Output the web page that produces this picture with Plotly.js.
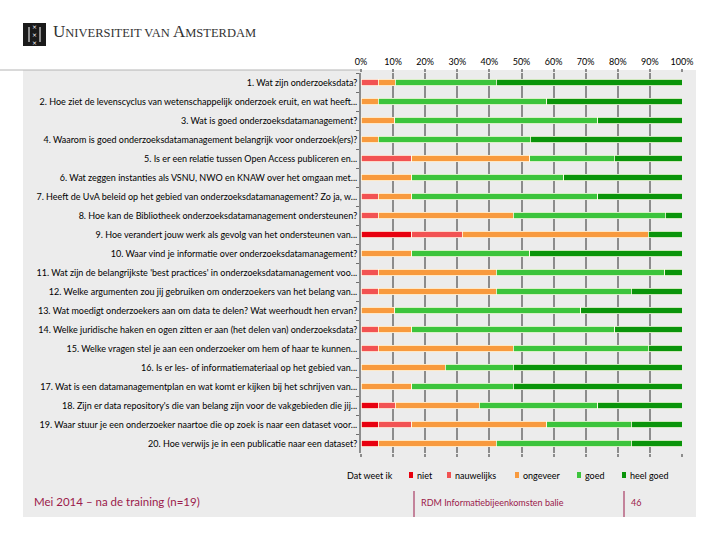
<!DOCTYPE html>
<html><head><meta charset="utf-8">
<script src="https://cdn.plot.ly/plotly-3.0.1.min.js"></script>
<style>html,body{margin:0;padding:0;background:#fff}#chart{width:720px;height:540px}</style>
</head><body><div id="chart"></div>
<script>
const questions = [
  "1. Wat zijn onderzoeksdata?",
  "2. Hoe ziet de levenscyclus van wetenschappelijk onderzoek eruit, en wat heeft...",
  "3. Wat is goed onderzoeksdatamanagement?",
  "4. Waarom is goed onderzoeksdatamanagement belangrijk voor onderzoek(ers)?",
  "5. Is er een relatie tussen Open Access publiceren en...",
  "6. Wat zeggen instanties als VSNU, NWO en KNAW over het omgaan met...",
  "7. Heeft de UvA beleid op het gebied van onderzoeksdatamanagement? Zo ja, w...",
  "8. Hoe kan de Bibliotheek onderzoeksdatamanagement ondersteunen?",
  "9. Hoe verandert jouw werk als gevolg van het ondersteunen van...",
  "10. Waar vind je informatie over onderzoeksdatamanagement?",
  "11. Wat zijn de belangrijkste 'best practices' in onderzoeksdatamanagement voo...",
  "12. Welke argumenten zou jij gebruiken om onderzoekers van het belang van...",
  "13. Wat moedigt onderzoekers aan om data te delen? Wat weerhoudt hen ervan?",
  "14. Welke juridische haken en ogen zitten er aan (het delen van) onderzoeksdata?",
  "15. Welke vragen stel je aan een onderzoeker om hem of haar te kunnen...",
  "16. Is er les- of informatiemateriaal op het gebied van...",
  "17. Wat is een datamanagementplan en wat komt er kijken bij het schrijven van...",
  "18. Zijn er data repository's die van belang zijn voor de vakgebieden die jij...",
  "19. Waar stuur je een onderzoeker naartoe die op zoek is naar een dataset voor...",
  "20. Hoe verwijs je in een publicatie naar een dataset?"
];

const seriesNames = ["Dat weet ik", "niet", "nauwelijks", "ongeveer", "goed", "heel goed"];
const seriesColors = ["rgba(0,0,0,0)", "#e8000f", "#f25252", "#f89a3e", "#3cc43c", "#0a940a"];

// percentages (n=19)
const datWeetIk  = [0,0,0,0,0,0,0,0,0,0,0,0,0,0,0,0,0,0,0,0];
const niet       = [0,0,0,0,0,0,0,0,15.8,0,0,0,0,0,0,0,0,5.3,5.3,5.3];
const nauwelijks = [5.3,0,0,0,15.8,0,5.3,5.3,15.8,0,5.3,5.3,0,5.3,5.3,0,0,5.3,10.5,0];
const ongeveer   = [5.3,5.3,10.5,5.3,36.8,15.8,10.5,42.1,57.9,15.8,36.8,36.8,10.5,10.5,42.1,26.3,15.8,26.3,42.1,36.8];
const goed       = [31.6,52.6,63.2,47.4,26.3,47.4,57.9,47.4,0,36.8,52.6,42.1,57.9,63.2,42.1,21.1,31.6,36.8,26.3,42.1];
const heelGoed   = [57.9,42.1,26.3,47.4,21.1,36.8,26.3,5.3,10.5,47.4,5.3,15.8,31.6,21.1,10.5,52.6,52.6,26.3,15.8,15.8];

const xTickVals   = [0,10,20,30,40,50,60,70,80,90,100];
const xTickLabels = ["0%","10%","20%","30%","40%","50%","60%","70%","80%","90%","100%"];

const footerLeft  = "Mei 2014 – na de training (n=19)";
const footerMid   = "RDM Informatiebijeenkomsten balie";
const footerPage  = "46";

const seriesValues = [datWeetIk, niet, nauwelijks, ongeveer, goed, heelGoed];

// ---- layout geometry (pixels) ----
const W = 720, H = 540;
const PL = 361, PR = 682, PT = 73, PB = 453;
const X = px => (px - PL) / (PR - PL);
const Y = py => (PB - py) / (PB - PT);

const FONT = "Lato, 'Open Sans', sans-serif";
const CRIMSON = "#9b1a4b";

const traces = seriesNames.map((name, i) => ({
  type: "bar",
  orientation: "h",
  name: name,
  x: seriesValues[i],
  y: questions,
  marker: {color: seriesColors[i], line: {color: i === 0 ? "rgba(0,0,0,0)" : "#fffbe8", width: i === 0 ? 0 : 0.8}},
  showlegend: false,
  hoverinfo: "x+name"
}));

const shapes = [
  // gray slide panel
  {type: "rect", xref: "paper", yref: "paper", x0: X(23), x1: X(696), y0: Y(517), y1: Y(70),
   fillcolor: "#ececec", line: {width: 0}, layer: "below"},
  // top rule
  {type: "line", xref: "paper", yref: "paper", x0: X(0), x1: X(360), y0: Y(70), y1: Y(70),
   line: {color: "#b4b4b4", width: 1}, layer: "below"},
  // logo block
  {type: "rect", xref: "paper", yref: "paper", x0: X(23), x1: X(46), y0: Y(46), y1: Y(23),
   fillcolor: "#1a1a1a", line: {width: 0}},
  {type: "line", xref: "paper", yref: "paper", x0: X(29), x1: X(29), y0: Y(42), y1: Y(27),
   line: {color: "#ffffff", width: 1}},
  {type: "line", xref: "paper", yref: "paper", x0: X(40), x1: X(40), y0: Y(42), y1: Y(27),
   line: {color: "#ffffff", width: 1}},
  // footer separators
  {type: "line", xref: "paper", yref: "paper", x0: X(414), x1: X(414), y0: Y(517), y1: Y(491),
   line: {color: CRIMSON, width: 1}},
  {type: "line", xref: "paper", yref: "paper", x0: X(624), x1: X(624), y0: Y(517), y1: Y(491),
   line: {color: CRIMSON, width: 1}}
];

const annotations = [
  {xref: "paper", yref: "paper", x: X(34.5), y: Y(34.5), xanchor: "center", yanchor: "middle", showarrow: false,
   text: "×<br>×<br>×", font: {family: "DejaVu Sans", size: 6, color: "#ffffff"}},
  {xref: "paper", yref: "paper", x: X(51), y: Y(31), xanchor: "left", yanchor: "middle", showarrow: false,
   text: "<span style='font-size:17px'>U</span>NIVERSITEIT VAN <span style='font-size:17px'>A</span>MSTERDAM",
   font: {family: "'Liberation Serif', 'DejaVu Serif', serif", size: 12.5, color: "#333333"}},
  {xref: "paper", yref: "paper", x: X(32), y: Y(501), xanchor: "left", yanchor: "middle", showarrow: false,
   text: footerLeft, font: {family: FONT, size: 11.5, color: CRIMSON}},
  {xref: "paper", yref: "paper", x: X(419), y: Y(502), xanchor: "left", yanchor: "middle", showarrow: false,
   text: footerMid, font: {family: FONT, size: 9, color: CRIMSON}},
  {xref: "paper", yref: "paper", x: X(629), y: Y(502), xanchor: "left", yanchor: "middle", showarrow: false,
   text: footerPage, font: {family: FONT, size: 9, color: CRIMSON}}
];

// legend (custom, compact like the original)
const legendX = [345, 409, 447, 515, 577, 622];
const legendY = 475;
seriesNames.forEach((name, i) => {
  let tx = legendX[i];
  if (i > 0) {
    shapes.push({type: "rect", xref: "paper", yref: "paper",
      x0: X(legendX[i]), x1: X(legendX[i] + 4), y0: Y(legendY + 3), y1: Y(legendY - 3),
      fillcolor: seriesColors[i], line: {width: 0}});
    tx = legendX[i] + 6;
  }
  annotations.push({xref: "paper", yref: "paper", x: X(tx), y: Y(legendY), xanchor: "left", yanchor: "middle",
    showarrow: false, text: name, font: {family: FONT, size: 9, color: "#000000"}});
});

const layout = {
  width: W, height: H,
  margin: {l: PL, r: W - PR, t: PT, b: H - PB, pad: 0},
  paper_bgcolor: "#ffffff",
  plot_bgcolor: "#ececec",
  barmode: "stack",
  bargap: 0.66,
  showlegend: false,
  font: {family: FONT, size: 9, color: "#000000"},
  xaxis: {
    side: "top", range: [0, 100], tickvals: xTickVals, ticktext: xTickLabels,
    showgrid: true, gridcolor: "#8c8c8c", gridwidth: 2,
    ticks: "outside", ticklen: 3, tickwidth: 2, tickcolor: "#8c8c8c",
    mirror: "ticks", showline: false, zeroline: false, fixedrange: true,
    tickfont: {family: FONT, size: 9, color: "#000000"}, automargin: false
  },
  yaxis: {
    type: "category", autorange: "reversed",
    showline: true, linecolor: "#8c8c8c", linewidth: 2,
    ticks: "outside", tickson: "boundaries", ticklen: 3, tickcolor: "#6e6e6e", tickwidth: 1,
    showgrid: false, zeroline: false, fixedrange: true,
    tickfont: {family: FONT, size: 9, color: "#000000"}, automargin: false
  },
  shapes: shapes,
  annotations: annotations
};

Plotly.newPlot("chart", traces, layout, {displayModeBar: false, staticPlot: true});
</script>
</body></html>
